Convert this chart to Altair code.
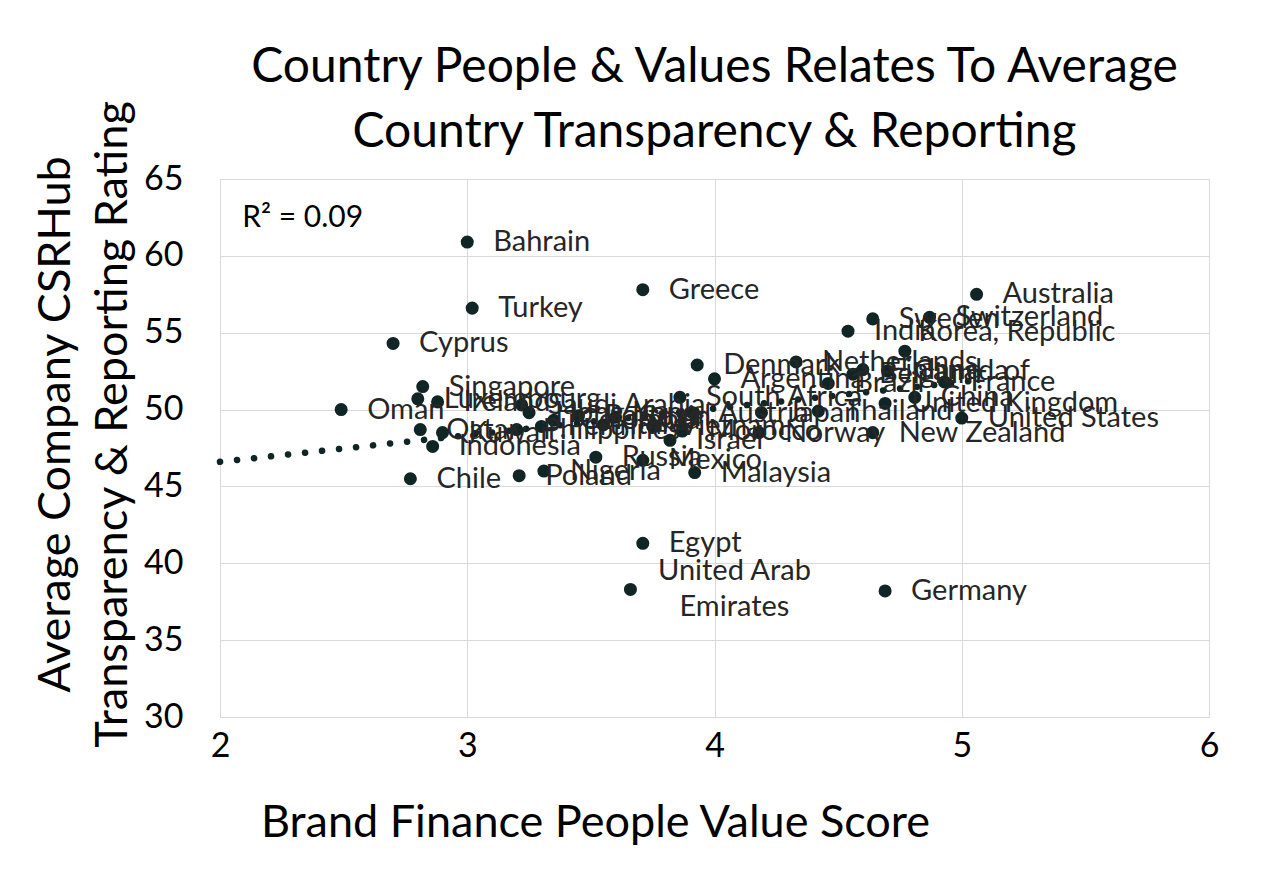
import altair as alt
import pandas as pd

countries = [
    "Bahrain", "Greece", "Turkey", "Cyprus", "Australia", "Sweden", "Switzerland", "India",
    "Netherlands", "Denmark", "Argentina", "Brazil", "France", "China", "United Kingdom",
    "United States", "New Zealand", "Thailand", "Norway", "Japan", "Austria", "South Africa",
    "Israel", "Morocco", "Russia", "Mexico", "Nigeria", "Poland", "Malaysia", "Egypt",
    "Germany", "Chile", "Indonesia", "Oman", "Singapore", "Luxembourg", "Ireland", "Qatar",
    "Kuwait", "Saudi Arabia", "Philippines", "Colombia", "Peru", "Portugal", "Spain", "Italy",
    "Hong Kong", "Vietnam", "Belgium", "Finland", "Canada",
]
people_value = [
    3.00, 3.71, 3.02, 2.70, 5.06, 4.64, 4.87, 4.54,
    4.33, 3.93, 4.00, 4.46, 4.93, 4.81, 4.69,
    5.00, 4.64, 4.42, 4.18, 4.19, 3.91, 3.86,
    3.82, 3.87, 3.52, 3.71, 3.31, 3.21, 3.92, 3.71,
    4.69, 2.77, 2.86, 2.49, 2.82, 2.80, 2.88, 2.81,
    2.90, 3.22, 3.20, 3.35, 3.30, 3.45, 3.60, 3.55,
    3.25, 3.75, 4.56, 4.60, 4.70,
]
transparency = [
    60.9, 57.8, 56.6, 54.3, 57.5, 55.9, 56.0, 55.1,
    53.1, 52.9, 52.0, 51.7, 51.8, 50.8, 50.4,
    49.45, 48.5, 49.9, 48.5, 49.8, 49.8, 50.8,
    48.0, 48.6, 46.9, 46.7, 46.0, 45.7, 45.9, 41.3,
    38.2, 45.5, 47.6, 50.0, 51.5, 50.7, 50.5, 48.7,
    48.5, 50.3, 48.7, 49.3, 48.9, 49.6, 49.5, 49.0,
    49.8, 48.9, 52.3, 52.6, 52.5,
]

# points whose label wraps over two lines
wrapped_names = ["Korea, Republic\nof", "United Arab\nEmirates"]
wrapped_x = [4.77, 3.66]
wrapped_y = [53.8, 38.3]

trend_x = [2.0, 5.06]
trend_y = [46.6, 51.9]

x_ticks = [2, 3, 4, 5, 6]
y_ticks = [30, 35, 40, 45, 50, 55, 60, 65]

r2_text = ["R² = 0.09"]
r2_x = [2.09]
r2_y = [62.45]

df = pd.DataFrame({"country": countries, "x": people_value, "y": transparency})
dfw = pd.DataFrame({"country": wrapped_names, "x": wrapped_x, "y": wrapped_y})
dft = pd.DataFrame({"x": trend_x, "y": trend_y})
dfr = pd.DataFrame({"t": r2_text, "x": r2_x, "y": r2_y})

FONT = "Lato"
DOT = "#102626"
LBL = "#262626"

xs = alt.X("x:Q", scale=alt.Scale(domain=[2, 6], nice=False),
           axis=alt.Axis(values=x_ticks, title="Brand Finance People Value Score",
                         titleFontSize=45, titleFontWeight="normal", titleFont=FONT,
                         titleColor="#000000", titleX=375, titleY=105,
                         titleBaseline="middle", titleAlign="center",
                         labelFontSize=34, labelFont=FONT, labelColor="#000000",
                         labelPadding=12, labelFlush=False, ticks=False, domainColor="#d9d9d9",
                         gridColor="#d9d9d9", format="d"))
ys = alt.Y("y:Q", scale=alt.Scale(domain=[30, 65], nice=False),
           axis=alt.Axis(values=y_ticks,
                         title=["Average Company CSRHub", "Transparency & Reporting Rating"],
                         titleFontSize=45, titleFontWeight="normal", titleFont=FONT,
                         titleColor="#000000", titleX=-165, titleY=245,
                         titleBaseline="middle", titleAlign="center", titleLineHeight=57,
                         labelFontSize=34, labelFont=FONT, labelColor="#000000",
                         labelPadding=37, labelFlush=False, ticks=False, domainColor="#d9d9d9",
                         gridColor="#d9d9d9"))

trend = alt.Chart(dft).mark_line(color=DOT, strokeWidth=6.5, strokeCap="round",
                                 strokeDash=[0.1, 17]).encode(x=xs, y=ys)

pts_all = pd.concat([df, dfw], ignore_index=True)
points = alt.Chart(pts_all).mark_circle(size=170, color=DOT, opacity=1).encode(x="x:Q", y="y:Q")

labels = alt.Chart(df).mark_text(align="left", baseline="middle", dx=26, fontSize=29,
                                 font=FONT, color=LBL).encode(x="x:Q", y="y:Q", text="country:N")

korea = alt.Chart(dfw.iloc[[0]]).mark_text(align="center", baseline="middle", dx=112, dy=-19,
                                           fontSize=29, font=FONT, color=LBL, lineBreak="\n",
                                           lineHeight=39).encode(x="x:Q", y="y:Q", text="country:N")
uae = alt.Chart(dfw.iloc[[1]]).mark_text(align="center", baseline="middle", dx=104, dy=-18,
                                         fontSize=29, font=FONT, color=LBL, lineBreak="\n",
                                         lineHeight=36).encode(x="x:Q", y="y:Q", text="country:N")

r2 = alt.Chart(dfr).mark_text(align="left", baseline="middle", fontSize=30, font=FONT,
                              color="#000000").encode(x="x:Q", y="y:Q", text="t:N")

chart = alt.layer(trend, points, labels, korea, uae, r2).properties(
    width=989, height=538,
    title=alt.TitleParams(
        text=["Country People & Values Relates To Average", "Country Transparency & Reporting"],
        fontSize=48, font=FONT, fontWeight="normal", color="#000000", anchor="middle",
        lineHeight=65, offset=8, dy=65),
    autosize=alt.AutoSizeParams(type="none"),
    padding={"left": 212, "top": 171, "right": 60, "bottom": 150},
).configure_view(stroke="#d9d9d9")

chart.save("out.html", embed_options={"renderer": "svg", "actions": False})
